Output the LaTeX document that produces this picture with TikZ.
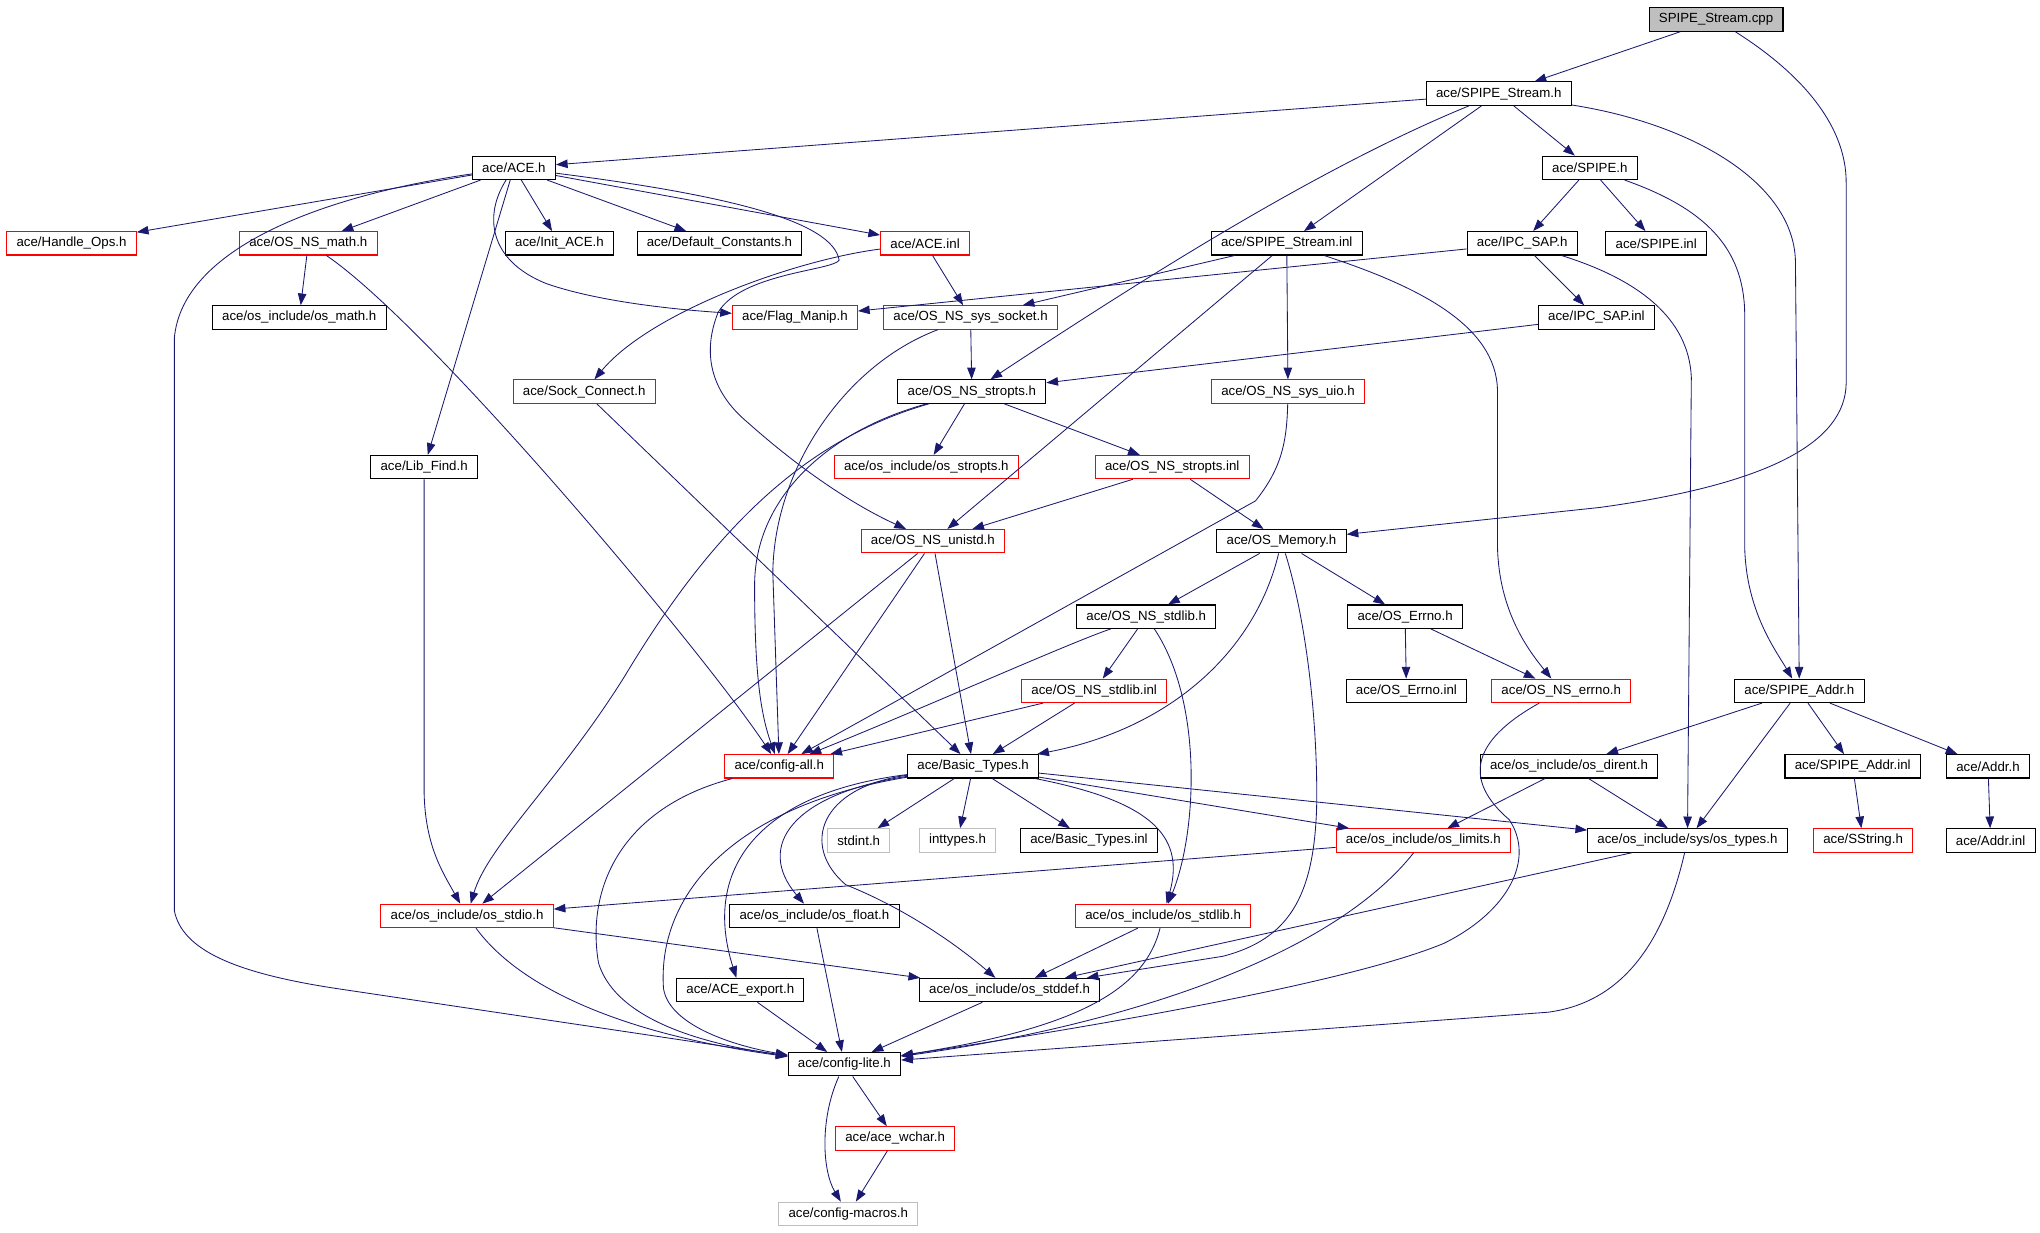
\documentclass[tikz,border=0pt]{standalone}
\usepackage{fontspec}
\setmainfont{Liberation Sans}
\usetikzlibrary{arrows.meta}
\definecolor{depblue}{HTML}{191970}
\definecolor{boxgray}{HTML}{BFBFBF}

\begin{document}
\begin{tikzpicture}[x=1pt,y=-1pt,
		hdr/.style={draw=black,line width=0.8pt,minimum height=18pt,inner xsep=7.5pt,inner ysep=0pt,font=\fontsize{10.2}{11}\selectfont},
		redhdr/.style={hdr,draw=red},
		syshdr/.style={hdr,draw=boxgray},
		roothdr/.style={hdr,fill=boxgray},
		dep/.style={draw=depblue,line width=0.65pt,-{Triangle[length=9pt,width=6.5pt]}}]
		\path[use as bounding box] (0,0) rectangle (1568,947);

		\node[roothdr] (cpp)          at (1319,15)  {SPIPE\_Stream.cpp};
		\node[hdr]     (sstreamh)     at (1152,72)  {ace/SPIPE\_Stream.h};
		\node[hdr]     (aceh)         at (395,129)  {ace/ACE.h};
		\node[hdr]     (spipeh)       at (1222,129) {ace/SPIPE.h};
		\node[redhdr]  (handleops)    at (55,187)   {ace/Handle\_Ops.h};
		\node[redhdr]  (osmath)       at (237,187)  {ace/OS\_NS\_math.h};
		\node[hdr]     (initace)      at (430,187)  {ace/Init\_ACE.h};
		\node[hdr]     (defconst)     at (553,187)  {ace/Default\_Constants.h};
		\node[redhdr]  (aceinl)       at (711,187)  {ace/ACE.inl};
		\node[hdr]     (sstreaminl)   at (989,187)  {ace/SPIPE\_Stream.inl};
		\node[hdr]     (ipcsaph)      at (1170,187) {ace/IPC\_SAP.h};
		\node[hdr]     (spipeinl)     at (1273,187) {ace/SPIPE.inl};
		\node[hdr]     (osincmath)    at (230,244)  {ace/os\_include/os\_math.h};
		\node[redhdr]  (flagmanip)    at (611,244)  {ace/Flag\_Manip.h};
		\node[redhdr]  (syssocket)    at (746,244)  {ace/OS\_NS\_sys\_socket.h};
		\node[hdr]     (ipcsapinl)    at (1227,244) {ace/IPC\_SAP.inl};
		\node[redhdr]  (sockconn)     at (449,301)  {ace/Sock\_Connect.h};
		\node[hdr]     (stropts)      at (747,301)  {ace/OS\_NS\_stropts.h};
		\node[redhdr]  (sysuio)       at (990,301)  {ace/OS\_NS\_sys\_uio.h};
		\node[hdr]     (libfind)      at (326,359)  {ace/Lib\_Find.h};
		\node[redhdr]  (osincstropts) at (712,359)  {ace/os\_include/os\_stropts.h};
		\node[redhdr]  (stroptsinl)   at (901,359)  {ace/OS\_NS\_stropts.inl};
		\node[redhdr]  (unistd)       at (717,416)  {ace/OS\_NS\_unistd.h};
		\node[hdr]     (osmem)        at (985,416)  {ace/OS\_Memory.h};
		\node[hdr]     (stdlibh)      at (881,474)  {ace/OS\_NS\_stdlib.h};
		\node[hdr]     (errnoh)       at (1080,474) {ace/OS\_Errno.h};
		\node[redhdr]  (stdlibinl)    at (841,531)  {ace/OS\_NS\_stdlib.inl};
		\node[hdr]     (errnoinl)     at (1081,531) {ace/OS\_Errno.inl};
		\node[redhdr]  (nserrno)      at (1200,531) {ace/OS\_NS\_errno.h};
		\node[hdr]     (spipeaddr)    at (1383,531) {ace/SPIPE\_Addr.h};
		\node[redhdr]  (cfgall)       at (599,589)  {ace/config-all.h};
		\node[hdr]     (basictypes)   at (748,589)  {ace/Basic\_Types.h};
		\node[hdr]     (dirent)       at (1206,589) {ace/os\_include/os\_dirent.h};
		\node[hdr]     (spipeaddrinl) at (1424,589) {ace/SPIPE\_Addr.inl};
		\node[hdr]     (addrh)        at (1528,589) {ace/Addr.h};
		\node[syshdr]  (stdint)       at (660,646)  {stdint.h};
		\node[syshdr]  (inttypes)     at (736,646)  {inttypes.h};
		\node[hdr]     (basicinl)     at (837,646)  {ace/Basic\_Types.inl};
		\node[redhdr]  (limits)       at (1094,646) {ace/os\_include/os\_limits.h};
		\node[hdr]     (ostypes)      at (1297,646) {ace/os\_include/sys/os\_types.h};
		\node[redhdr]  (sstring)      at (1432,646) {ace/SString.h};
		\node[hdr]     (addrinl)      at (1530,646) {ace/Addr.inl};
		\node[redhdr]  (stdio)        at (359,704)  {ace/os\_include/os\_stdio.h};
		\node[hdr]     (osfloat)      at (626,704)  {ace/os\_include/os\_float.h};
		\node[redhdr]  (osstdlib)     at (894,704)  {ace/os\_include/os\_stdlib.h};
		\node[hdr]     (aceexport)    at (569,761)  {ace/ACE\_export.h};
		\node[hdr]     (stddef)       at (776,761)  {ace/os\_include/os\_stddef.h};
		\node[hdr]     (cfglite)      at (649,818)  {ace/config-lite.h};
		\node[redhdr]  (wchar)        at (688,875)  {ace/ace\_wchar.h};
		\node[syshdr]  (cfgmacros)    at (652,933)  {ace/config-macros.h};

		\draw[dep] (cpp) -- (sstreamh);
		\draw[dep] (cpp) .. controls (1390,60) and (1419,100) .. (1419,140) -- (1419,295) .. controls (1418,340) and (1360,372) .. (1230,390) -- (osmem);
		\draw[dep] (sstreamh) -- (aceh);
		\draw[dep] (sstreamh) -- (sstreaminl);
		\draw[dep] (sstreamh) -- (spipeh);
		\draw[dep] (sstreamh) .. controls (1010,130) and (870,220) .. (stropts);
		\draw[dep] (sstreamh) .. controls (1300,95) and (1378,140) .. (1380,200) -- (spipeaddr);
		\draw[dep] (aceh) -- (handleops);
		\draw[dep] (aceh) -- (osmath);
		\draw[dep] (aceh) -- (initace);
		\draw[dep] (aceh) -- (defconst);
		\draw[dep] (aceh) -- (aceinl);
		\draw[dep] (aceh) -- (libfind);
		\draw[dep] (aceh) .. controls (372,165) and (375,200) .. (420,218) .. controls (460,232) and (520,238) .. (flagmanip);
		\draw[dep] (aceh) .. controls (250,150) and (140,190) .. (134,260) -- (134,700) .. controls (140,730) and (180,748) .. (260,760) -- (cfglite);
		\draw[dep] (aceh) .. controls (560,150) and (640,170) .. (645,200) .. controls (640,208) and (570,210) .. (552,240) .. controls (540,270) and (545,300) .. (575,325) .. controls (620,365) and (660,390) .. (unistd);
		\draw[dep] (aceinl) -- (syssocket);
		\draw[dep] (aceinl) .. controls (610,200) and (500,240) .. (sockconn);
		\draw[dep] (osmath) -- (osincmath);
		\draw[dep] (osmath) .. controls (330,250) and (540,500) .. (cfgall);
		\draw[dep] (spipeh) -- (ipcsaph);
		\draw[dep] (spipeh) -- (spipeinl);
		\draw[dep] (spipeh) .. controls (1310,160) and (1340,190) .. (1341,240) -- (1341,420) .. controls (1342,470) and (1365,500) .. (spipeaddr);
		\draw[dep] (ipcsaph) -- (flagmanip);
		\draw[dep] (ipcsaph) -- (ipcsapinl);
		\draw[dep] (ipcsaph) .. controls (1260,215) and (1298,245) .. (1300,290) -- (ostypes);
		\draw[dep] (ipcsapinl) -- (stropts);
		\draw[dep] (sstreaminl) -- (syssocket);
		\draw[dep] (sstreaminl) -- (sysuio);
		\draw[dep] (sstreaminl) -- (unistd);
		\draw[dep] (sstreaminl) .. controls (1090,220) and (1150,250) .. (1151,300) -- (1151,420) .. controls (1152,470) and (1175,500) .. (nserrno);
		\draw[dep] (syssocket) -- (stropts);
		\draw[dep] (syssocket) .. controls (650,280) and (595,360) .. (594,440) -- (cfgall);
		\draw[dep] (stropts) -- (osincstropts);
		\draw[dep] (stropts) -- (stroptsinl);
		\draw[dep] (stropts) .. controls (640,330) and (580,380) .. (580,450) .. controls (580,520) and (585,550) .. (cfgall);
		\draw[dep] (stropts) .. controls (610,340) and (540,420) .. (480,520) .. controls (430,600) and (375,650) .. (stdio);
		\draw[dep] (sysuio) .. controls (989,340) and (985,360) .. (965,385) -- (cfgall);
		\draw[dep] (sockconn) -- (basictypes);
		\draw[dep] (libfind) -- (326,610) .. controls (327,650) and (340,670) .. (stdio);
		\draw[dep] (stroptsinl) -- (unistd);
		\draw[dep] (stroptsinl) -- (osmem);
		\draw[dep] (unistd) -- (cfgall);
		\draw[dep] (unistd) -- (basictypes);
		\draw[dep] (unistd) -- (stdio);
		\draw[dep] (osmem) -- (stdlibh);
		\draw[dep] (osmem) -- (errnoh);
		\draw[dep] (osmem) .. controls (965,500) and (900,560) .. (basictypes);
		\draw[dep] (osmem) .. controls (1005,480) and (1013,560) .. (1012,620) .. controls (1010,690) and (990,722) .. (940,735) -- (stddef);
		\draw[dep] (stdlibh) -- (stdlibinl);
		\draw[dep] (stdlibh) .. controls (820,495) and (720,540) .. (cfgall);
		\draw[dep] (stdlibh) .. controls (925,540) and (920,640) .. (osstdlib);
		\draw[dep] (errnoh) -- (errnoinl);
		\draw[dep] (errnoh) -- (nserrno);
		\draw[dep] (stdlibinl) -- (cfgall);
		\draw[dep] (stdlibinl) -- (basictypes);
		\draw[dep] (nserrno) .. controls (1130,570) and (1125,600) .. (1160,630) .. controls (1180,660) and (1160,700) .. (1110,725) .. controls (1050,750) and (900,780) .. (cfglite);
		\draw[dep] (spipeaddr) -- (dirent);
		\draw[dep] (spipeaddr) -- (ostypes);
		\draw[dep] (spipeaddr) -- (spipeaddrinl);
		\draw[dep] (spipeaddr) -- (addrh);
		\draw[dep] (spipeaddrinl) -- (sstring);
		\draw[dep] (addrh) -- (addrinl);
		\draw[dep] (cfgall) .. controls (480,620) and (450,680) .. (460,740) .. controls (475,790) and (560,805) .. (cfglite);
		\draw[dep] (basictypes) -- (stdint);
		\draw[dep] (basictypes) -- (inttypes);
		\draw[dep] (basictypes) -- (basicinl);
		\draw[dep] (basictypes) -- (limits);
		\draw[dep] (basictypes) -- (ostypes);
		\draw[dep] (basictypes) .. controls (880,615) and (912,640) .. (osstdlib);
		\draw[dep] (basictypes) .. controls (630,605) and (615,650) .. (650,680) .. controls (700,700) and (740,730) .. (stddef);
		\draw[dep] (basictypes) .. controls (610,610) and (580,650) .. (osfloat);
		\draw[dep] (basictypes) .. controls (580,610) and (540,670) .. (aceexport);
		\draw[dep] (basictypes) .. controls (560,620) and (505,690) .. (510,760) .. controls (515,790) and (570,805) .. (cfglite);
		\draw[dep] (dirent) -- (limits);
		\draw[dep] (dirent) -- (ostypes);
		\draw[dep] (limits) -- (stdio);
		\draw[dep] (limits) .. controls (1020,740) and (850,790) .. (cfglite);
		\draw[dep] (ostypes) -- (stddef);
		\draw[dep] (ostypes) .. controls (1280,720) and (1250,770) .. (1190,778) -- (cfglite);
		\draw[dep] (stdio) -- (stddef);
		\draw[dep] (stdio) .. controls (400,760) and (480,795) .. (cfglite);
		\draw[dep] (osfloat) -- (cfglite);
		\draw[dep] (osstdlib) -- (stddef);
		\draw[dep] (osstdlib) .. controls (880,760) and (830,790) .. (cfglite);
		\draw[dep] (aceexport) -- (cfglite);
		\draw[dep] (stddef) -- (cfglite);
		\draw[dep] (cfglite) -- (wchar);
		\draw[dep] (cfglite) .. controls (630,860) and (632,900) .. (cfgmacros);
		\draw[dep] (wchar) -- (cfgmacros);
	\end{tikzpicture}
\end{document}
